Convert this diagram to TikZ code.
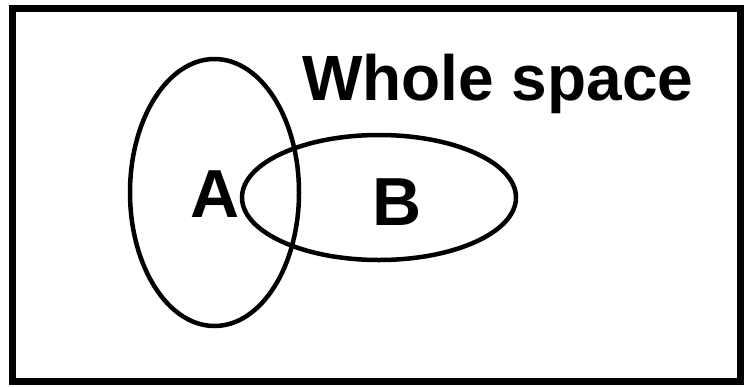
\documentclass[tikz,border=0pt]{standalone}
\usepackage{fontspec}
\setmainfont{Liberation Sans}
\usetikzlibrary{shapes.geometric, positioning}

\begin{document}
\begin{tikzpicture}[
    x=1pt, y=-1pt,
    setshape/.style={draw, ellipse, line width=4.5pt, inner sep=0pt},
    setlabel/.style={inner sep=0pt, anchor=base, font=\fontsize{68}{72}\selectfont\bfseries},
    spacelabel/.style={inner sep=0pt, anchor=base west, font=\fontsize{64}{68}\selectfont\bfseries}
]
\useasboundingbox (0,0) rectangle (744,386);

% Whole space
\draw[line width=7pt] (12.5,8.5) rectangle (740,381);
\node[spacelabel] (space) at (302,100) {Whole space};

% Sets
\node[setshape, minimum width=169pt, minimum height=267pt] (seta) at (214.5,192.5) {};
\node[setshape, minimum width=274pt, minimum height=125pt] (setb) at (379,197.5) {};

% Labels
\node[setlabel] (la) at (215,217) {A};
\node[setlabel] (lb) at (397,225) {B};

\end{tikzpicture}
\end{document}
